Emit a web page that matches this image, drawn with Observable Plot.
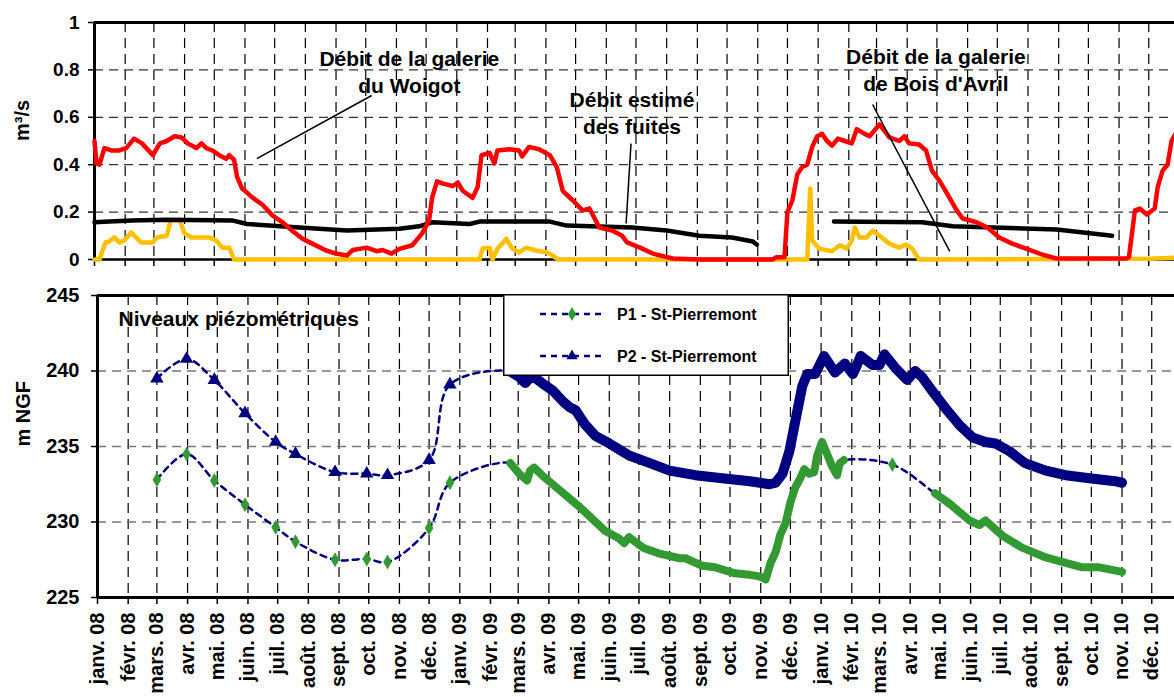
<!DOCTYPE html>
<html><head><meta charset="utf-8">
<script src="https://cdn.jsdelivr.net/npm/d3@7"></script>
<script src="https://cdn.jsdelivr.net/npm/@observablehq/plot@0.6"></script>
<style>
body{margin:0;background:#fff;overflow:hidden;}
#wrap{position:relative;width:1174px;height:697px;overflow:hidden;font-family:"Liberation Sans",Arial,sans-serif;font-weight:bold;}
#top,#bot,#legend{position:absolute;left:0;}
#top{top:0}
#bot{top:275px}
#legend{left:503px;top:294px;}
</style></head><body><div id="wrap"><div id="top"></div><div id="bot"></div><div id="legend"></div></div>
<script>
const monthNames = ["janv.","févr.","mars.","avr.","mai.","juin.","juil.","août.","sept.","oct.","nov.","déc."];
const flowTicks = [0,0.2,0.4,0.6,0.8,1];
const levelTicks = [225,230,235,240,245];

// Débit de la galerie du Woigot (red)
const woigot = [["2008-01-01",0.50],["2008-01-03",0.405],["2008-01-06",0.40],["2008-01-11",0.47],["2008-01-18",0.46],["2008-01-26",0.46],["2008-02-02",0.47],["2008-02-10",0.51],["2008-02-18",0.49],["2008-02-29",0.44],["2008-03-07",0.49],["2008-03-14",0.50],["2008-03-22",0.52],["2008-03-29",0.515],["2008-04-04",0.49],["2008-04-13",0.47],["2008-04-18",0.49],["2008-04-23",0.47],["2008-04-29",0.46],["2008-05-06",0.44],["2008-05-13",0.425],["2008-05-16",0.44],["2008-05-21",0.42],["2008-05-24",0.35],["2008-05-29",0.30],["2008-06-09",0.26],["2008-06-19",0.23],["2008-06-29",0.185],["2008-07-09",0.157],["2008-07-19",0.12],["2008-07-29",0.088],["2008-08-08",0.067],["2008-08-22",0.038],["2008-09-01",0.025],["2008-09-12",0.017],["2008-09-18",0.04],["2008-10-02",0.05],["2008-10-12",0.035],["2008-10-18",0.04],["2008-10-27",0.025],["2008-11-04",0.045],["2008-11-17",0.06],["2008-11-27",0.11],["2008-12-04",0.165],["2008-12-07",0.26],["2008-12-12",0.33],["2008-12-18",0.32],["2008-12-28",0.31],["2009-01-02",0.325],["2009-01-07",0.29],["2009-01-17",0.26],["2009-01-22",0.305],["2009-01-26",0.44],["2009-02-03",0.45],["2009-02-08",0.405],["2009-02-11",0.46],["2009-02-23",0.465],["2009-03-05",0.46],["2009-03-08",0.435],["2009-03-15",0.475],["2009-03-25",0.465],["2009-04-05",0.44],["2009-04-12",0.39],["2009-04-18",0.29],["2009-04-28",0.25],["2009-05-08",0.207],["2009-05-15",0.215],["2009-05-25",0.135],["2009-06-07",0.122],["2009-06-17",0.10],["2009-06-22",0.072],["2009-07-05",0.05],["2009-07-18",0.025],["2009-08-07",0.004],["2009-09-03",0],["2009-11-16",0],["2009-11-20",0.01],["2009-11-28",0.01],["2009-12-01",0.20],["2009-12-06",0.25],["2009-12-11",0.36],["2009-12-16",0.39],["2009-12-21",0.40],["2009-12-26",0.475],["2009-12-31",0.52],["2010-01-05",0.53],["2010-01-10",0.50],["2010-01-15",0.48],["2010-01-21",0.51],["2010-01-28",0.50],["2010-02-04",0.49],["2010-02-09",0.55],["2010-02-17",0.53],["2010-02-22",0.52],["2010-03-04",0.57],["2010-03-14",0.515],["2010-03-24",0.50],["2010-03-29",0.52],["2010-04-03",0.49],["2010-04-13",0.485],["2010-04-20",0.46],["2010-04-26",0.375],["2010-05-04",0.33],["2010-05-11",0.28],["2010-05-21",0.207],["2010-05-27",0.173],["2010-06-10",0.157],["2010-06-21",0.135],["2010-07-03",0.093],["2010-07-16",0.067],["2010-07-30",0.046],["2010-08-16",0.02],["2010-08-30",0.004],["2010-11-08",0.004],["2010-11-11",0.01],["2010-11-17",0.207],["2010-11-22",0.215],["2010-11-29",0.19],["2010-12-07",0.215],["2010-12-10",0.305],["2010-12-15",0.375],["2010-12-20",0.40],["2010-12-24",0.50],["2010-12-28",0.53]];

// Débit estimé des fuites (black)
const leaks = [["2008-01-01",0.157],["2008-01-16",0.16],["2008-02-08",0.165],["2008-03-14",0.168],["2008-05-19",0.165],["2008-06-03",0.15],["2008-07-26",0.135],["2008-09-12",0.122],["2008-11-04",0.13],["2008-11-24",0.14],["2008-12-07",0.157],["2009-01-14",0.15],["2009-01-24",0.16],["2009-04-05",0.16],["2009-04-22",0.143],["2009-06-27",0.135],["2009-08-01",0.122],["2009-09-03",0.10],["2009-10-06",0.093],["2009-10-27",0.076],["2009-10-31",0.063],["2009-11-15",null],["2010-01-17",0.16],["2010-04-16",0.157],["2010-05-17",0.14],["2010-08-30",0.127],["2010-10-25",0.10]];

// Débit de la galerie de Bois d'Avril (yellow)
const boisDavril = [["2008-01-01",0],["2008-01-06",0],["2008-01-12",0.072],["2008-01-16",0.076],["2008-01-21",0.093],["2008-01-26",0.072],["2008-01-31",0.08],["2008-02-07",0.114],["2008-02-12",0.093],["2008-02-17",0.072],["2008-02-29",0.072],["2008-03-04",0.093],["2008-03-14",0.10],["2008-03-18",0.165],["2008-03-27",0.168],["2008-04-01",0.11],["2008-04-08",0.093],["2008-04-26",0.093],["2008-05-03",0.08],["2008-05-09",0.05],["2008-05-16",0.05],["2008-05-21",0],["2009-01-24",0],["2009-01-27",0.046],["2009-02-03",0.05],["2009-02-06",0],["2009-02-11",0.046],["2009-02-16",0.067],["2009-02-20",0.088],["2009-02-26",0.046],["2009-03-05",0.03],["2009-03-12",0.05],["2009-03-22",0.038],["2009-04-02",0.03],["2009-04-08",0.017],["2009-04-13",0],["2009-12-21",0],["2009-12-24",0.30],["2009-12-26",0.08],["2010-01-02",0.046],["2010-01-15",0.035],["2010-01-23",0.06],["2010-01-30",0.046],["2010-02-04",0.08],["2010-02-07",0.135],["2010-02-12",0.093],["2010-02-19",0.093],["2010-02-25",0.122],["2010-03-04",0.10],["2010-03-14",0.067],["2010-03-24",0.05],["2010-03-31",0.063],["2010-04-06",0.046],["2010-04-13",0],["2010-12-02",0.003],["2010-12-28",0.008]];

// Annotations (date, value position) and leader lines
const annotations = [
  {date:"2008-11-14", value:0.797, text:"Débit de la galerie\ndu Woigot"},
  {date:"2009-06-27", value:0.624, text:"Débit estimé\ndes fuites"},
  {date:"2010-04-30", value:0.804, text:"Débit de la galerie\nde Bois d'Avril"}
];
const leaders = [
  {d1:"2008-06-13", v1:0.426, d2:"2008-10-07", v2:0.692},
  {d1:"2009-06-26", v1:0.489, d2:"2009-06-21", v2:0.152},
  {d1:"2010-02-25", v1:0.654, d2:"2010-05-14", v2:0.034}
];

// P1 - St-Pierremont (green diamonds)
const p1Sparse = [["2008-03-01",232.8],["2008-03-31",234.5],["2008-04-28",232.75],["2008-05-29",231.15],["2008-06-29",229.65],["2008-07-19",228.7],["2008-08-28",227.5],["2008-09-29",227.55],["2008-10-20",227.35],["2008-12-01",229.6],["2008-12-22",232.6],["2010-03-14",233.8]];
const p1Dense1 = [["2009-02-21",233.9],["2009-03-02",233.2],["2009-03-10",232.75],["2009-03-13",233.4],["2009-03-17",233.6],["2009-03-25",233.1],["2009-04-03",232.6],["2009-04-12",232.1],["2009-04-22",231.55],["2009-05-02",231.0],["2009-05-15",230.2],["2009-05-28",229.4],["2009-06-11",228.9],["2009-06-16",228.6],["2009-06-21",229.0],["2009-07-05",228.3],["2009-07-22",227.9],["2009-08-11",227.6],["2009-08-17",227.6],["2009-09-03",227.1],["2009-09-16",227.0],["2009-10-06",226.6],["2009-10-21",226.5],["2009-10-31",226.4],["2009-11-06",226.2],["2009-11-11",227.3],["2009-11-16",228.0],["2009-11-21",229.2],["2009-11-26",229.9],["2009-12-01",231.3],["2009-12-06",232.3],["2009-12-11",232.9],["2009-12-15",233.5],["2009-12-20",233.2],["2009-12-25",233.3],["2009-12-28",234.4],["2010-01-02",235.3],["2010-01-07",234.5],["2010-01-12",233.7],["2010-01-17",233.1],["2010-01-20",233.9],["2010-01-24",234.1]];
const p1Dense2 = [["2010-04-26",231.9],["2010-05-11",231.2],["2010-05-31",230.1],["2010-06-10",229.8],["2010-06-16",230.1],["2010-07-03",229.1],["2010-07-23",228.3],["2010-08-16",227.65],["2010-09-05",227.3],["2010-09-22",227.0],["2010-10-09",227.0],["2010-11-01",226.7]];

// P2 - St-Pierremont (navy triangles)
const p2Sparse = [["2008-03-01",239.5],["2008-03-31",240.8],["2008-04-28",239.4],["2008-05-29",237.2],["2008-06-29",235.3],["2008-07-19",234.5],["2008-08-28",233.3],["2008-09-29",233.2],["2008-10-20",233.1],["2008-12-01",234.1],["2008-12-22",239.1]];
const p2Dense = [["2009-02-20",240.0],["2009-03-02",239.6],["2009-03-08",239.2],["2009-03-15",239.7],["2009-03-25",239.2],["2009-04-05",238.7],["2009-04-15",238.0],["2009-04-22",237.6],["2009-04-28",237.4],["2009-05-07",236.5],["2009-05-18",235.7],["2009-06-01",235.2],["2009-06-21",234.4],["2009-07-12",233.9],["2009-08-01",233.4],["2009-08-27",233.1],["2009-09-23",232.9],["2009-10-21",232.7],["2009-11-10",232.5],["2009-11-16",232.6],["2009-11-23",233.2],["2009-11-30",234.7],["2009-12-06",236.7],["2009-12-13",239.0],["2009-12-18",239.8],["2009-12-26",239.8],["2010-01-04",241.0],["2010-01-15",239.9],["2010-01-25",240.5],["2010-02-02",239.8],["2010-02-05",240.2],["2010-02-10",241.0],["2010-02-22",240.4],["2010-03-01",240.4],["2010-03-06",241.1],["2010-03-17",240.2],["2010-03-29",239.4],["2010-04-06",240.0],["2010-04-13",239.6],["2010-04-23",238.7],["2010-05-07",237.5],["2010-05-21",236.4],["2010-06-03",235.6],["2010-06-16",235.3],["2010-06-26",235.2],["2010-07-10",234.7],["2010-07-26",233.9],["2010-08-16",233.4],["2010-09-05",233.1],["2010-09-29",232.9],["2010-10-25",232.7],["2010-11-01",232.6]];

const legendItems = [
  {label:"P1 - St-Pierremont", color:"#339933", symbol:"diamond"},
  {label:"P2 - St-Pierremont", color:"#000080", symbol:"triangle"}
];

const toDate = s => new Date(s + "T00:00:00Z");
const rows = arr => arr.map(([d, v]) => ({date: toDate(d), value: v}));
const byDate = (a, b) => a.date - b.date;

const FONT = "'Liberation Sans', Arial, sans-serif";
const NAVY = "#000080", GREEN = "#339933";
const startDate = toDate("2008-01-01");
const topEnd = toDate("2010-12-27");
const botEnd = toDate("2010-12-24");
const monthsTop = d3.utcMonths(startDate, topEnd);
const monthsBot = d3.utcMonths(startDate, botEnd);
const fmtFlow = d => d === 0 ? "0" : d === 1 ? "1" : d.toFixed(1);
const fmtMonth = d => `${monthNames[d.getUTCMonth()]} ${String(d.getUTCFullYear()).slice(2)}`;
const baseStyle = {fontFamily: FONT, fontWeight: "bold", color: "#000", background: "transparent", overflow: "visible"};

const topPlot = Plot.plot({
  width: 1174, height: 275,
  marginLeft: 94, marginRight: 0, marginTop: 22, marginBottom: 16,
  style: {...baseStyle, fontSize: "19px"},
  x: {type: "utc", domain: [startDate, topEnd], label: null},
  y: {domain: [0, 1], label: null},
  marks: [
    Plot.ruleX(monthsTop.slice(1), {stroke: "#000", strokeWidth: 1.2, strokeDasharray: "10,6"}),
    Plot.ruleY(flowTicks.filter(v => v > 0 && v < 1), {stroke: "#333", strokeWidth: 1.2, strokeDasharray: "9,6"}),
    Plot.axisY({ticks: flowTicks, tickFormat: fmtFlow, tickSize: 6, tickPadding: 9, strokeWidth: 1.5, fontSize: 19, label: null}),
    Plot.axisX({ticks: monthsTop, tickSize: 7, tickFormat: () => "", strokeWidth: 1.5, label: null}),
    Plot.ruleY([0], {strokeWidth: 2.5}),
    Plot.ruleY([1], {strokeWidth: 3}),
    Plot.ruleX([startDate], {strokeWidth: 3}),
    Plot.line(rows(boisDavril), {x: "date", y: "value", stroke: "#FFC000", strokeWidth: 4.5, strokeLinejoin: "round"}),
    Plot.line(rows(leaks), {x: "date", y: "value", stroke: "#000", strokeWidth: 4.5, strokeLinejoin: "round", strokeLinecap: "round"}),
    Plot.line(rows(woigot), {x: "date", y: "value", stroke: "#FF0000", strokeWidth: 4.5, strokeLinejoin: "round"}),
    Plot.link(leaders, {x1: d => toDate(d.d1), y1: "v1", x2: d => toDate(d.d2), y2: "v2", stroke: "#000", strokeWidth: 1.5}),
    Plot.text(annotations, {x: d => toDate(d.date), y: "value", text: "text", fontSize: 21, lineHeight: 1.3, textAnchor: "middle", lineAnchor: "middle", fill: "#000"}),
    Plot.text(["m³/s"], {frameAnchor: "left", dx: -72, rotate: -90, fontSize: 20})
  ]
});
document.getElementById("top").append(topPlot);

const p1All = rows([...p1Sparse, ...p1Dense1, ...p1Dense2]).sort(byDate);
const p2All = rows([...p2Sparse, ...p2Dense]).sort(byDate);

const botPlot = Plot.plot({
  width: 1174, height: 422,
  marginLeft: 97, marginRight: 0, marginTop: 20, marginBottom: 100,
  style: {...baseStyle, fontSize: "20px"},
  x: {type: "utc", domain: [startDate, botEnd], label: null},
  y: {domain: [225, 245], label: null},
  marks: [
    Plot.ruleX(monthsBot.slice(1), {stroke: "#000", strokeWidth: 1.2, strokeDasharray: "10,6"}),
    Plot.ruleY(levelTicks.filter(v => v > 225 && v < 245), {stroke: "#777", strokeWidth: 1.3, strokeDasharray: "9,6"}),
    Plot.axisY({ticks: levelTicks, tickSize: 6, tickPadding: 12, strokeWidth: 1.5, fontSize: 20, label: null}),
    Plot.axisX({ticks: monthsBot, tickFormat: fmtMonth, tickRotate: -90, tickSize: 7, tickPadding: 8, strokeWidth: 1.5, fontSize: 20, label: null}),
    Plot.ruleY([225], {strokeWidth: 3}),
    Plot.ruleY([245], {strokeWidth: 3}),
    Plot.ruleX([startDate], {strokeWidth: 3}),
    Plot.line(p2All, {x: "date", y: "value", stroke: NAVY, strokeWidth: 2.5, strokeDasharray: "6,5", curve: "catmull-rom"}),
    Plot.line(p1All, {x: "date", y: "value", stroke: NAVY, strokeWidth: 2.5, strokeDasharray: "6,5", curve: "catmull-rom"}),
    Plot.line(rows(p2Dense), {x: "date", y: "value", stroke: NAVY, strokeWidth: 10, strokeLinejoin: "round", strokeLinecap: "round"}),
    Plot.dot(rows(p2Sparse), {x: "date", y: "value", symbol: "triangle", fill: NAVY, r: 5}),
    Plot.line(rows(p1Dense1), {x: "date", y: "value", stroke: GREEN, strokeWidth: 8, strokeLinejoin: "round", strokeLinecap: "round"}),
    Plot.line(rows(p1Dense2), {x: "date", y: "value", stroke: GREEN, strokeWidth: 8, strokeLinejoin: "round", strokeLinecap: "round"}),
    Plot.dot(rows(p1Sparse), {x: "date", y: "value", symbol: "diamond", fill: GREEN, r: 4.5}),
    Plot.text(["Niveaux piézométriques"], {frameAnchor: "top-left", dx: 21, dy: 24, textAnchor: "start", lineAnchor: "middle", fontSize: 21}),
    Plot.text(["m NGF"], {frameAnchor: "left", dx: -74, rotate: -90, fontSize: 20})
  ]
});
document.getElementById("bot").append(botPlot);

// Legend box (inside the lower chart)
const lw = 286, lh = 82;
const lsvg = d3.select("#legend").append("svg").attr("width", lw).attr("height", lh)
  .style("font-family", FONT).style("font-weight", "bold").style("display", "block");
lsvg.append("rect").attr("x", 0.75).attr("y", 0.75).attr("width", lw - 1.5).attr("height", lh - 1.5)
  .attr("fill", "#fff").attr("stroke", "#000").attr("stroke-width", 1.5);
const symMap = {diamond: d3.symbolDiamond, triangle: d3.symbolTriangle};
legendItems.forEach((it, i) => {
  const cy = 20 + i * 42;
  const g = lsvg.append("g").attr("transform", `translate(0,${cy})`);
  g.append("line").attr("x1", 37).attr("x2", 101).attr("y1", 0).attr("y2", 0)
    .attr("stroke", NAVY).attr("stroke-width", 2.5).attr("stroke-dasharray", "6,5");
  g.append("path").attr("d", d3.symbol(symMap[it.symbol], 55)()).attr("transform", "translate(69,0)").attr("fill", it.color);
  g.append("text").attr("x", 114).attr("y", 0).attr("dy", "0.35em").attr("font-size", 16).text(it.label);
});
</script></body></html>
